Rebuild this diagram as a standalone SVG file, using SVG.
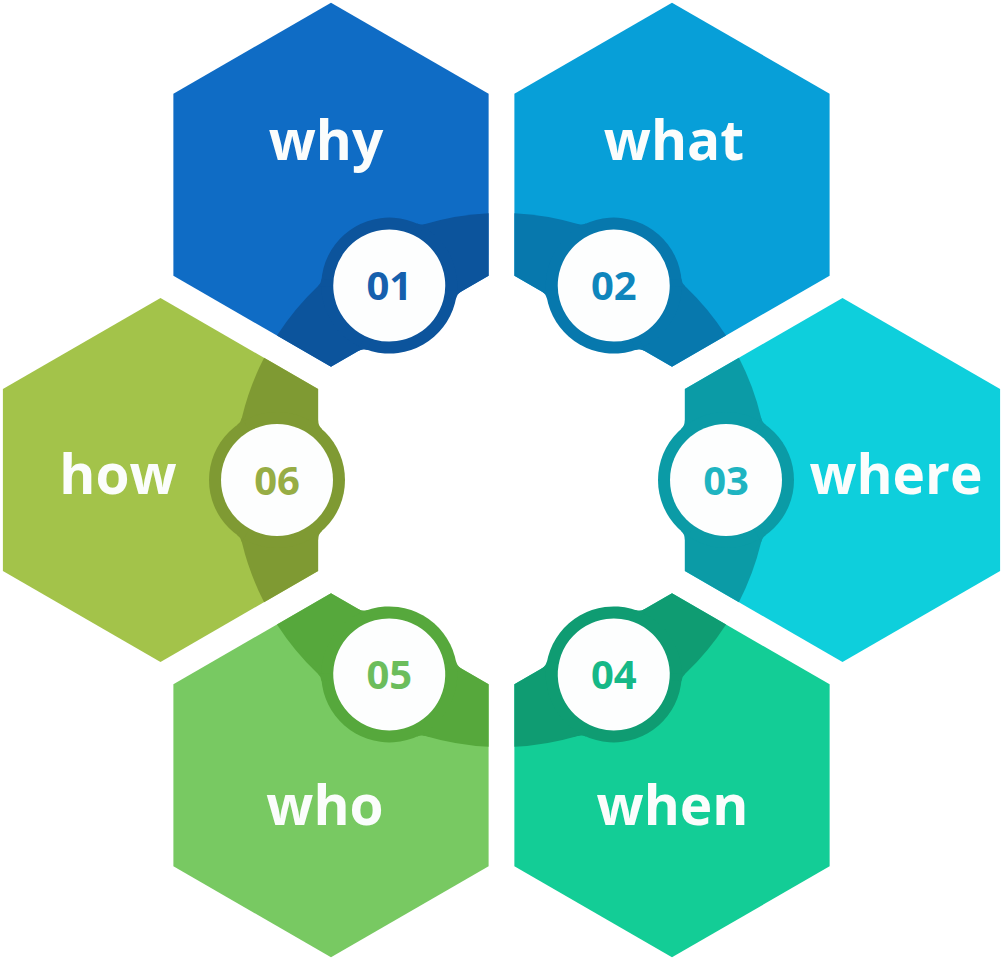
<svg xmlns="http://www.w3.org/2000/svg" xmlns:xlink="http://www.w3.org/1999/xlink" width="1003" height="962" viewBox="0 0 1003 962">
  <style>
    .word { font-family: "Open Sans", "Noto Sans", "Liberation Sans", sans-serif; font-weight: 700; font-size: 55px; fill: #fbfdfc; text-anchor: middle; }
    .num { font-family: "Open Sans", "Noto Sans", "Liberation Sans", sans-serif; font-weight: 700; font-size: 40px; text-anchor: middle; }
    .disc { fill: #fdfefe; }
  </style>
  <defs>
    <!-- one petal drawn in the frame of the right-hand ("where") hexagon; fill = body colour, color = accent colour -->
    <g id="petal">
      <polygon points="842.5,298 1000.1,389 1000.1,571 842.5,662 684.9,571 684.9,389"/>
      <path fill="currentColor" d="M738.91 357.81 L684.9 389 L684.9 571 L738.91 602.19 A267 267 0 0 0 738.91 357.81 Z"/>
      <circle fill="currentColor" cx="726" cy="480" r="68"/>
      <path fill="currentColor" d="M761.19 417.95 A12 12 0 0 0 765.83 424.89 L726 480 Z"/>
      <path fill="currentColor" d="M761.19 542.05 A12 12 0 0 1 765.83 535.11 L726 480 Z"/>
      <path fill="currentColor" d="M684.9 420.16 A12 12 0 0 1 680.86 429.14 L726 480 Z"/>
      <path fill="currentColor" d="M684.9 539.84 A12 12 0 0 0 680.86 530.86 L726 480 Z"/>
      <circle class="disc" cx="726" cy="480" r="56"/>
    </g>
  </defs>

  <g id="node-why">
    <use xlink:href="#petal" href="#petal" transform="rotate(-120 501.5 480)" fill="#0f6cc5" color="#0c549c"/>
    <text class="word" x="326" y="160">why</text>
    <text class="num" x="389.25" y="300" fill="#1660ad">01</text>
  </g>

  <g id="node-what">
    <use xlink:href="#petal" href="#petal" transform="rotate(-60 501.5 480)" fill="#079fd8" color="#0778ad"/>
    <text class="word" x="674" y="160">what</text>
    <text class="num" x="613.75" y="300" fill="#0f86bd">02</text>
  </g>

  <g id="node-where">
    <use xlink:href="#petal" href="#petal" fill="#0ecfdc" color="#0b9ba6"/>
    <text class="word" x="896" y="494">where</text>
    <text class="num" x="726" y="494.5" fill="#1fb4c1">03</text>
  </g>

  <g id="node-when">
    <use xlink:href="#petal" href="#petal" transform="rotate(60 501.5 480)" fill="#13cd96" color="#0f9c72"/>
    <text class="word" x="672.5" y="825">when</text>
    <text class="num" x="613.75" y="688.5" fill="#16b887">04</text>
  </g>

  <g id="node-who">
    <use xlink:href="#petal" href="#petal" transform="rotate(120 501.5 480)" fill="#78c962" color="#56a83c"/>
    <text class="word" x="325" y="825">who</text>
    <text class="num" x="389.25" y="688.5" fill="#6cbd5c">05</text>
  </g>

  <g id="node-how">
    <use xlink:href="#petal" href="#petal" transform="rotate(180 501.5 480)" fill="#a3c34a" color="#7f9a33"/>
    <text class="word" x="118" y="494">how</text>
    <text class="num" x="277" y="494.5" fill="#97ad45">06</text>
  </g>

  <g id="connectors"/>
</svg>
